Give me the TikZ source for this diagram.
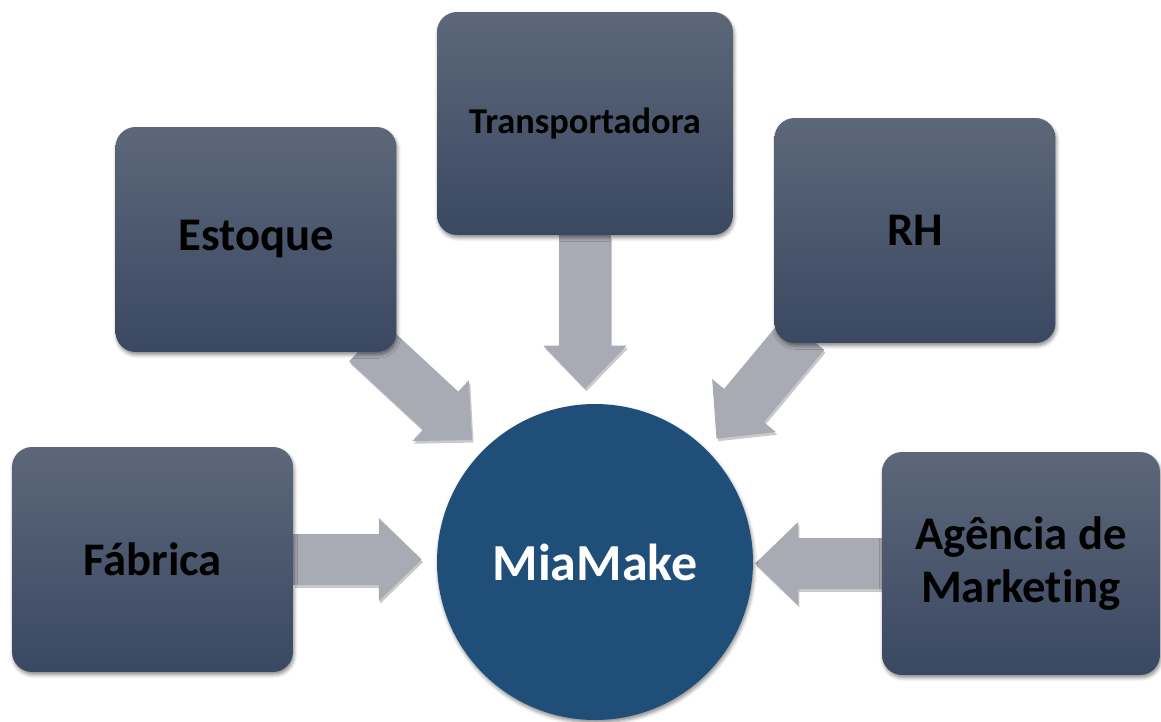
\documentclass[tikz,border=0pt]{standalone}
\usepackage{fontspec}
\setmainfont{Carlito}[Ligatures=NoCommon]
\usetikzlibrary{arrows.meta,shadows.blur,backgrounds,calc}
\definecolor{caixatopo}{RGB}{92,103,121}
\definecolor{caixabase}{RGB}{58,72,98}
\definecolor{azulmia}{RGB}{31,78,121}
\definecolor{setacor}{RGB}{168,170,180}
\begin{document}
\begin{tikzpicture}[x=0.02cm,y=-0.02cm,line join=round,
	caixa/.style={rounded corners=0.4cm,minimum width=5.62cm,minimum height=4.5cm,inner sep=0pt,align=center,top color=caixatopo,bottom color=caixabase,blur shadow={shadow xshift=0.6pt,shadow yshift=-1.6pt,shadow blur radius=2pt,shadow opacity=45},font=\fontsize{26.6}{30}\selectfont\bfseries},
	seta/.style={line width=1.04cm,draw=setacor,-{Triangle[length=0.86cm,width=1.66cm,line width=0pt]}}]
	\useasboundingbox (0,0) rectangle (1161,722);
	% Centro
	\node[circle,fill=azulmia,minimum size=6.32cm,inner sep=0pt,text=white,font=\fontsize{29.6}{32}\selectfont\bfseries,blur shadow={shadow xshift=0.6pt,shadow yshift=-1.6pt,shadow blur radius=2pt,shadow opacity=45}] (mia) at (595,562) {MiaMake};
	% Caixas
	\node[caixa] (fab) at (152.5,559.5) {Fábrica};
	\node[caixa] (stq) at (256,239.5) {Estoque};
	\node[caixa,minimum width=5.92cm,minimum height=4.46cm,font=\fontsize{20.7}{24}\selectfont\bfseries] (trp) at (585,123.5) {Transportadora};
	\node[caixa] (rh) at (915,230.5) {RH};
	\node[caixa,minimum width=5.56cm,minimum height=4.46cm] (agm) at (1021,563.5) {Agência de\\Marketing};
	% Setas
	\coordinate (fabfim) at (fab.east -| mia.west);
	\coordinate (trpfim) at (trp.south |- mia.north);
	\coordinate (agmfim) at (agm.west -| mia.east);
	\coordinate (stqini) at ($(stq.south east)+(-30,-10)$);
	\coordinate (rhini) at ($(rh.south west)+(30,-10)$);
	\begin{scope}[on background layer]
		\foreach \a/\b/\c in {fab.east/fabfim/8.5pt,stqini/mia.135/8.5pt,trp.south/trpfim/8.5pt,rhini/mia.45/8.5pt,agm.west/agmfim/1pt}{
			\draw[seta,draw=black!70,opacity=0.3,shorten >=\c,transform canvas={shift={(0.8pt,-1.5pt)}}] (\a) -- (\b);
			\draw[seta,shorten >=\c] (\a) -- (\b);
		}
	\end{scope}
\end{tikzpicture}
\end{document}
